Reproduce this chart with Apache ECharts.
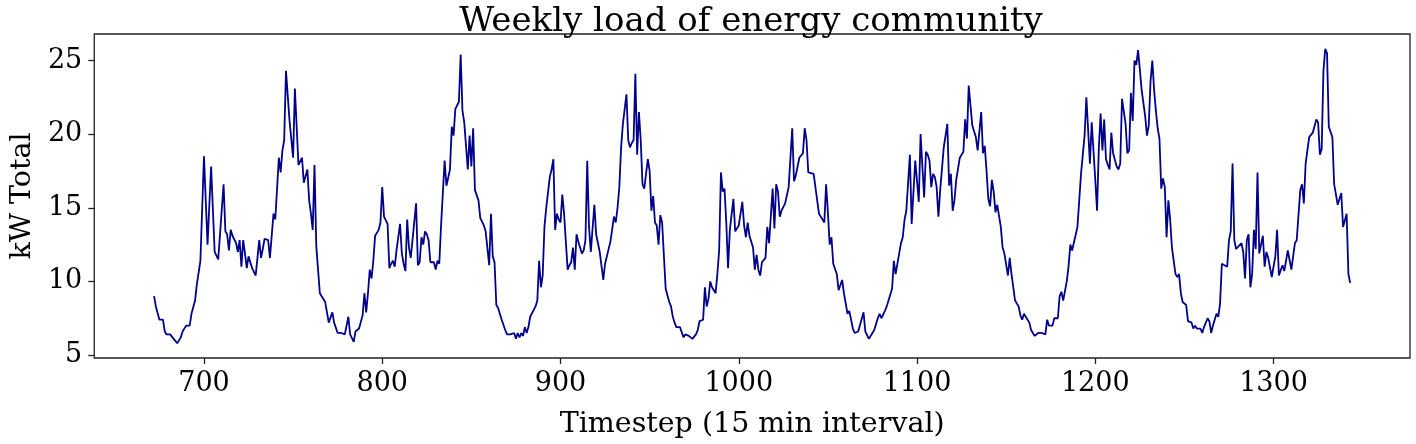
<!DOCTYPE html>
<html>
<head>
<meta charset="utf-8">
<script src="https://cdn.jsdelivr.net/npm/echarts@6/dist/echarts.min.js"></script>
<style>
html,body{margin:0;padding:0;background:#fff;}
#chart{width:1416px;height:444px;}
</style>
</head>
<body>
<div id="chart"></div>
<script>
// Timestep (15 min interval) of each vertex
const timesteps = [
672,673,675,676,677,678,679,681,682,683,684,685,687,688,689,690,692,693,694,695,696,697,698,700,702,704,706,707,708,711,712,713,714,715,716,718,719,720,721,722,723,724,725,727,728,729,731,732,733,734,736,737,739,740,742,743,744,745,746,748,750,751,753,754,755,756,758,759,760,761,762,763,764,765,
766,768,769,770,772,773,775,776,777,779,781,782,783,784,785,787,788,789,790,791,792,793,794,795,796,798,799,800,801,802,803,804,805,806,807,808,809,810,811,812,813,814,815,816,819,820,821,822,823,824,825,826,827,829,830,831,832,833,835,836,838,839,840,841,842,843,844,845,846,848,849,850,851,852,854,855,857,858,
860,861,862,863,864,865,867,868,869,870,872,874,875,876,877,878,879,880,881,882,883,884,886,887,888,889,890,891,892,894,895,896,897,898,899,900,901,902,904,905,906,907,908,909,910,911,912,913,914,915,916,917,918,919,920,922,923,924,925,926,927,928,930,931,932,933,934,935,937,938,939,940,941,942,943,944,945,946,947,
949,950,951,952,953,954,955,956,957,959,960,961,962,963,964,965,967,968,969,970,971,972,974,976,977,978,980,981,982,983,984,985,987,988,989,990,991,992,993,994,995,996,997,998,999,1000,1002,1003,1004,1005,1006,1008,1009,1010,1011,1012,1013,1015,1016,1017,1019,1020,1021,1022,1023,1024,1026,1027,1028,1029,1030,1031,1032,1034,1035,1036,1037,1038,1039,1040,1042,
1043,1045,1046,1048,1049,1050,1051,1052,1053,1055,1056,1058,1059,1060,1061,1062,1063,1064,1065,1066,1067,1068,1070,1071,1072,1073,1075,1076,1077,1078,1079,1080,1081,1082,1083,1084,1086,1087,1088,1090,1091,1092,1093,1094,1095,1096,1097,1098,1099,1100,1101,1102,1103,1104,1105,1106,1107,1108,1109,1110,1111,1112,1113,1115,1117,1118,1119,1120,1121,1122,1124,1125,1126,1127,1128,1129,1130,1131,1132,1133,1134,1136,1137,1138,1139,1140,1141,1142,
1143,1144,1145,1146,1147,1148,1149,1150,1151,1152,1153,1155,1156,1157,1158,1159,1160,1161,1163,1164,1165,1166,1168,1169,1170,1172,1173,1174,1176,1177,1179,1180,1181,1182,1184,1185,1186,1187,1188,1190,1191,1192,1193,1194,1195,1197,1198,1200,1201,1202,1203,1204,1205,1206,1208,1209,1210,1212,1213,1214,1215,1217,1218,1219,1220,1221,1222,1223,1224,1225,1226,1228,1229,1230,1231,1232,
1233,1234,1235,1236,1237,1238,1239,1240,1241,1242,1243,1245,1246,1247,1248,1249,1251,1252,1253,1254,1255,1256,1257,1259,1260,1261,1263,1264,1265,1266,1268,1269,1270,1271,1272,1274,1275,1276,1277,1278,1279,1280,1282,1283,1284,1285,1286,1287,1288,1289,1290,1291,1292,1293,1294,1295,1296,1297,1299,1300,1301,1302,1303,1304,1305,1306,1307,1308,1309,1310,1311,1312,1313,1314,1315,1316,1317,1318,1319,1320,1322,1323,1324,1325,1326,1327,1328,1329,1330,1331,1332,1333,1334,1335,1336,1337,1338,1339,1340,1341,1342,1343
];
// kW Total at each of those timesteps
const kwTotal = [
9.0,8.3,7.4,7.5,7.4,6.6,6.4,6.4,6.5,6.1,6.2,5.8,6.2,6.6,6.7,7.0,7.0,7.8,7.9,8.7,9.8,9.9,11.4,18.5,12.5,17.8,12.0,11.9,11.5,16.6,13.4,13.2,12.1,13.5,13.1,12.6,12.0,12.8,11.0,12.8,11.9,10.9,11.7,10.9,10.9,10.4,12.8,11.6,12.2,12.9,12.8,11.6,14.6,14.2,18.4,17.4,18.9,19.6,24.3,20.9,18.4,23.1,17.9,17.8,18.4,16.7,17.6,15.5,14.6,13.5,17.9,12.4,12.3,9.2,
9.1,8.6,8.5,7.2,7.9,7.2,6.5,6.6,6.5,6.4,7.6,6.4,6.3,5.9,6.6,6.8,6.9,7.7,9.2,7.9,9.2,10.8,10.2,11.4,13.1,13.5,14.0,16.4,14.4,14.3,13.9,10.9,11.2,11.4,11.0,12.1,12.2,13.9,11.9,11.2,10.7,14.2,12.3,11.6,15.3,11.1,11.3,13.0,12.5,13.4,13.2,12.8,11.3,11.3,10.8,11.4,11.2,13.8,18.2,16.5,17.6,20.5,19.9,21.7,21.6,22.2,25.4,21.6,20.8,17.6,19.9,17.8,20.4,16.2,15.5,14.3,13.8,13.4,
11.1,14.6,11.7,11.3,8.4,8.2,7.4,7.3,6.7,6.4,6.4,6.5,6.1,6.5,6.2,6.5,6.3,6.9,6.5,6.9,7.6,7.6,8.3,8.7,11.4,9.6,10.4,13.7,15.0,17.1,17.6,18.3,13.5,14.6,14.2,14.0,15.9,14.6,10.8,11.1,11.3,12.3,10.8,13.2,12.7,12.8,11.9,12.1,12.8,18.2,13.7,12.0,11.9,15.2,13.2,12.0,11.9,10.1,11.2,11.7,11.7,12.7,14.4,14.0,15.0,16.4,19.1,20.7,22.7,19.6,19.1,19.4,19.6,24.1,18.6,21.5,19.6,16.6,16.3,
18.3,17.5,14.8,15.8,14.0,13.8,12.5,14.5,14.0,9.5,9.5,8.6,8.3,7.6,7.2,6.9,6.9,6.8,6.2,6.4,6.4,6.3,6.1,6.4,6.7,7.3,7.4,9.6,8.3,8.8,10.0,9.6,9.2,10.5,12.1,17.4,16.1,16.3,14.0,10.9,13.5,13.6,15.6,13.4,13.3,13.8,15.4,13.8,13.0,14.0,13.1,12.3,10.8,11.8,10.8,10.4,11.3,11.6,13.7,12.6,16.3,13.6,16.6,16.1,14.4,14.8,15.3,15.2,16.4,16.5,20.4,16.8,17.2,18.4,18.3,18.7,20.4,19.6,17.4,17.4,17.3,
17.4,14.6,14.4,14.0,16.6,14.7,12.5,13.0,11.2,10.5,9.4,10.1,9.2,8.5,7.8,8.0,7.9,6.8,6.5,6.6,6.6,6.5,7.9,6.6,6.7,6.1,6.5,6.7,6.7,7.5,7.8,7.5,7.4,8.0,8.3,8.3,9.5,11.4,10.5,11.9,12.6,13.0,14.2,14.8,14.9,18.6,13.9,14.0,18.2,18.3,15.4,20.0,17.8,15.7,18.8,18.6,18.2,16.4,17.3,17.1,16.4,14.4,16.2,19.1,20.7,16.5,17.3,14.8,15.5,16.9,18.4,18.6,18.8,21.0,19.7,23.3,23.2,20.6,20.2,19.8,18.9,21.5,18.7,19.2,17.5,15.6,15.1,16.9,
16.1,14.7,15.2,15.1,13.7,12.3,11.9,11.9,10.4,11.6,10.5,8.7,8.6,8.3,7.7,7.4,7.8,7.6,7.2,6.7,6.5,6.3,6.5,6.6,6.5,6.4,7.4,7.0,7.0,7.5,7.5,9.0,9.3,8.7,10.0,11.0,12.5,12.1,12.0,13.7,13.8,17.3,17.2,19.9,22.5,18.0,20.8,16.9,14.8,19.1,21.4,18.9,21.0,18.3,17.6,20.1,18.7,17.8,17.6,18.0,22.4,20.7,18.7,18.9,22.8,20.9,25.0,24.7,25.7,24.4,23.0,21.2,19.9,20.6,23.6,25.0,
23.0,21.6,20.4,19.7,16.3,17.0,16.4,13.0,15.5,14.2,12.3,10.5,10.3,10.5,9.2,8.6,8.4,7.3,7.2,7.2,6.8,7.0,6.8,6.8,6.5,6.9,7.5,7.3,6.5,7.0,7.8,7.6,8.5,11.2,11.2,11.0,12.8,13.4,18.0,12.8,12.2,12.1,12.6,12.0,10.2,12.8,13.2,9.6,10.5,13.5,12.2,17.4,11.9,12.5,13.1,11.0,12.0,11.6,10.3,10.3,11.7,13.5,10.4,10.5,11.1,10.7,11.4,12.1,12.0,10.8,10.7,12.6,12.8,12.7,16.2,16.6,15.3,18.0,17.9,19.8,20.1,20.1,21.0,20.8,18.6,19.0,24.3,25.8,25.5,20.5,20.4,19.8,16.6,16.6,15.2,15.2,16.0,13.7,13.6,14.6,10.5,9.9
];
const xTicks = [700, 800, 900, 1000, 1100, 1200, 1300];
const yTicks = [5, 10, 15, 20, 25];

const seriesData = timesteps.map((t, i) => [t, kwTotal[i]]);
const serif = 'DejaVu Serif';
const frameColor = '#222';

const chart = echarts.init(document.getElementById('chart'), null, {renderer: 'canvas'});
chart.setOption({
  animation: false,
  backgroundColor: '#fff',
  title: {
    text: 'Weekly load of energy community',
    left: 746,
    textAlign: 'center',
    top: 0,
    textStyle: {fontFamily: serif, fontSize: 34, fontWeight: 'normal', color: '#000'}
  },
  grid: {
    left: 82, right: 6, top: 34, bottom: 86,
    show: true, borderColor: frameColor, borderWidth: 1.3, backgroundColor: 'transparent'
  },
  xAxis: {
    type: 'value',
    min: 638.45, max: 1376.55,
    name: 'Timestep (15 min interval)',
    nameLocation: 'middle',
    nameGap: 52,
    nameTextStyle: {fontFamily: serif, fontSize: 28.5, color: '#000'},
    axisLine: {show: false},
    axisTick: {show: true, inside: false, length: 6, lineStyle: {color: frameColor, width: 1.3}, customValues: xTicks},
    axisLabel: {fontFamily: serif, fontSize: 27, color: '#000', margin: 12, customValues: xTicks,
      formatter: v => String(Math.round(v))},
    splitLine: {show: false}
  },
  yAxis: {
    type: 'value',
    min: 4.8, max: 26.8,
    name: 'kW Total',
    nameLocation: 'middle',
    nameGap: 54,
    nameTextStyle: {fontFamily: serif, fontSize: 28.5, color: '#000'},
    axisLine: {show: false},
    axisTick: {show: true, inside: false, length: 6, lineStyle: {color: frameColor, width: 1.3}, customValues: yTicks},
    axisLabel: {fontFamily: serif, fontSize: 27, color: '#000', margin: 12, customValues: yTicks,
      formatter: v => String(Math.round(v))},
    splitLine: {show: false}
  },
  series: [{
    type: 'line',
    data: seriesData,
    showSymbol: false,
    symbol: 'none',
    lineStyle: {color: '#00008b', width: 1.8},
    itemStyle: {color: '#00008b'}
  }]
});
</script>
</body>
</html>
